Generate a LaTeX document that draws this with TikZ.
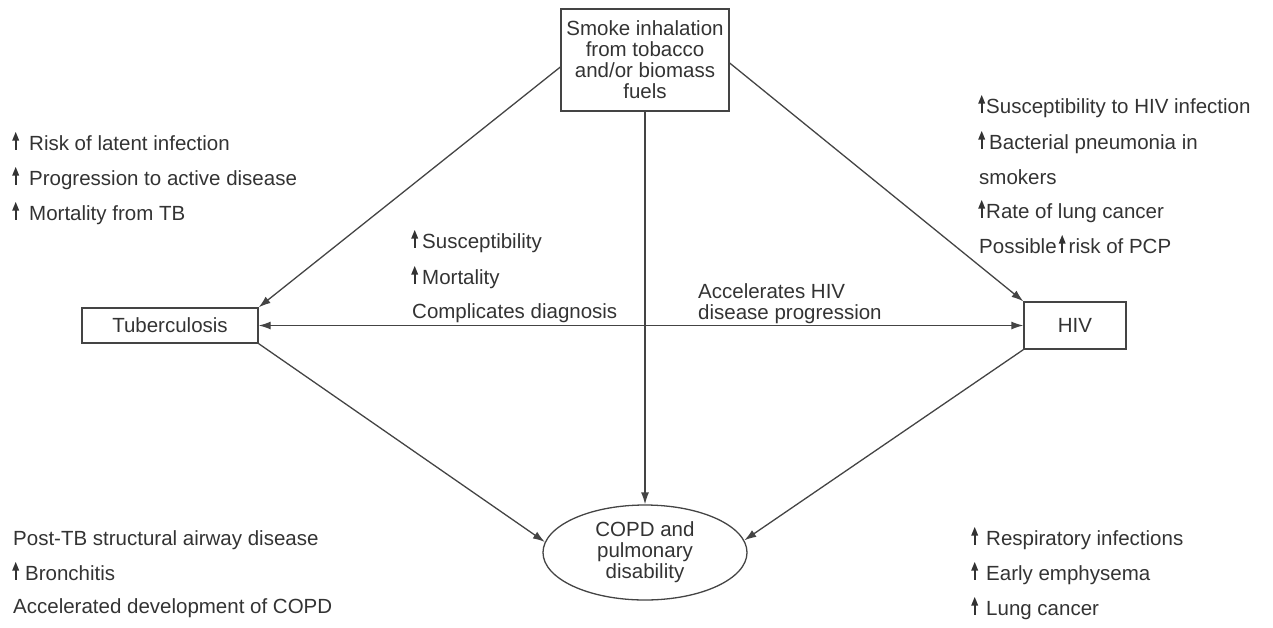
\documentclass[tikz,border=0pt]{standalone}
\usepackage{fontspec}
\setmainfont{Liberation Sans}
\usetikzlibrary{shapes.geometric,arrows.meta,calc}
\definecolor{ink}{HTML}{333333}
\definecolor{rule}{HTML}{444444}
% small "increase" arrow used inline in the text
\newcommand\upmark{\tikz[baseline=0pt,x=1pt,y=1pt]{%
  \fill[ink] (-0.8,0) rectangle (0.8,11);
  \fill[ink] (-3.5,9.5)--(3.5,9.5)--(0,18)--cycle;}}
\tikzset{
  txt/.style={font=\fontsize{20.5}{21}\selectfont, text=ink, inner sep=0pt, anchor=base west},
  boxnode/.style={draw=rule, line width=1.3pt, font=\fontsize{20.5}{21}\selectfont,
    text=ink, align=center, inner sep=0pt},
  link/.style={draw=rule, line width=1.3pt, -{Latex[length=12pt,width=8pt]}},
}
\begin{document}
\begin{tikzpicture}[x=1pt,y=-1pt]
\useasboundingbox (0,0) rectangle (1273,627);

% main boxes
\node[boxnode, minimum width=168pt, minimum height=102pt] (smoke) at (645,60)
  {Smoke inhalation\\from tobacco\\and/or biomass\\fuels};
\node[boxnode, minimum width=176pt, minimum height=35pt] (tb) at (170,325.5) {Tuberculosis};
\node[boxnode, minimum width=102pt, minimum height=47pt] (hiv) at (1075,325.5) {HIV};
\node[boxnode, ellipse, minimum width=204pt, minimum height=95pt] (copd) at (645,552.5)
  {COPD and\\pulmonary\\disability};

% connectors
\draw[link] ($(smoke.west)+(0,7)$) -- (tb.north east);
\draw[link] ($(smoke.east)+(0,3)$) -- (hiv.north west);
\draw[link] (smoke.south) -- (copd.north);
\draw[link, {Latex[length=12pt,width=8pt]}-{Latex[length=12pt,width=8pt]}] (tb.east) -- (hiv.west);
\draw[link] (tb.south east) -- (copd.174);
\draw[link] (hiv.south west) -- (copd.7);

% smoke -> tuberculosis
\node[txt] (lt1) at (12,150) {\upmark\hspace{10pt}Risk of latent infection};
\node[txt] (lt2) at (12,185) {\upmark\hspace{10pt}Progression to active disease};
\node[txt] (lt3) at (12,220) {\upmark\hspace{10pt}Mortality from TB};

% smoke -> HIV
\node[txt] (rt1) at (978,113) {\upmark\hspace{1pt}Susceptibility to HIV infection};
\node[txt] (rt2) at (978,149) {\upmark\hspace{4pt}Bacterial pneumonia in};
\node[txt] (rt3) at (979,184) {smokers};
\node[txt] (rt4) at (978,218) {\upmark\hspace{1pt}Rate of lung cancer};
\node[txt] (rt5) at (979,253) {Possible\hspace{2pt}\upmark\hspace{3pt}risk of PCP};

% tuberculosis <-> HIV
\node[txt] (m1) at (411,248) {\upmark\hspace{4pt}Susceptibility};
\node[txt] (m2) at (411,284) {\upmark\hspace{4pt}Mortality};
\node[txt] (m3) at (412,318) {Complicates diagnosis};
\node[txt] (acc1) at (698,298) {Accelerates HIV};
\node[txt] (acc2) at (698,319) {disease progression};

% tuberculosis -> COPD
\node[txt] (lb1) at (13,545) {Post-TB structural airway disease};
\node[txt] (lb2) at (12,580) {\upmark\hspace{6pt}Bronchitis};
\node[txt] (lb3) at (13,613) {Accelerated development of COPD};

% HIV -> COPD
\node[txt] (rb1) at (971,545) {\upmark\hspace{8pt}Respiratory infections};
\node[txt] (rb2) at (971,580) {\upmark\hspace{8pt}Early emphysema};
\node[txt] (rb3) at (971,615) {\upmark\hspace{8pt}Lung cancer};
\end{tikzpicture}
\end{document}
